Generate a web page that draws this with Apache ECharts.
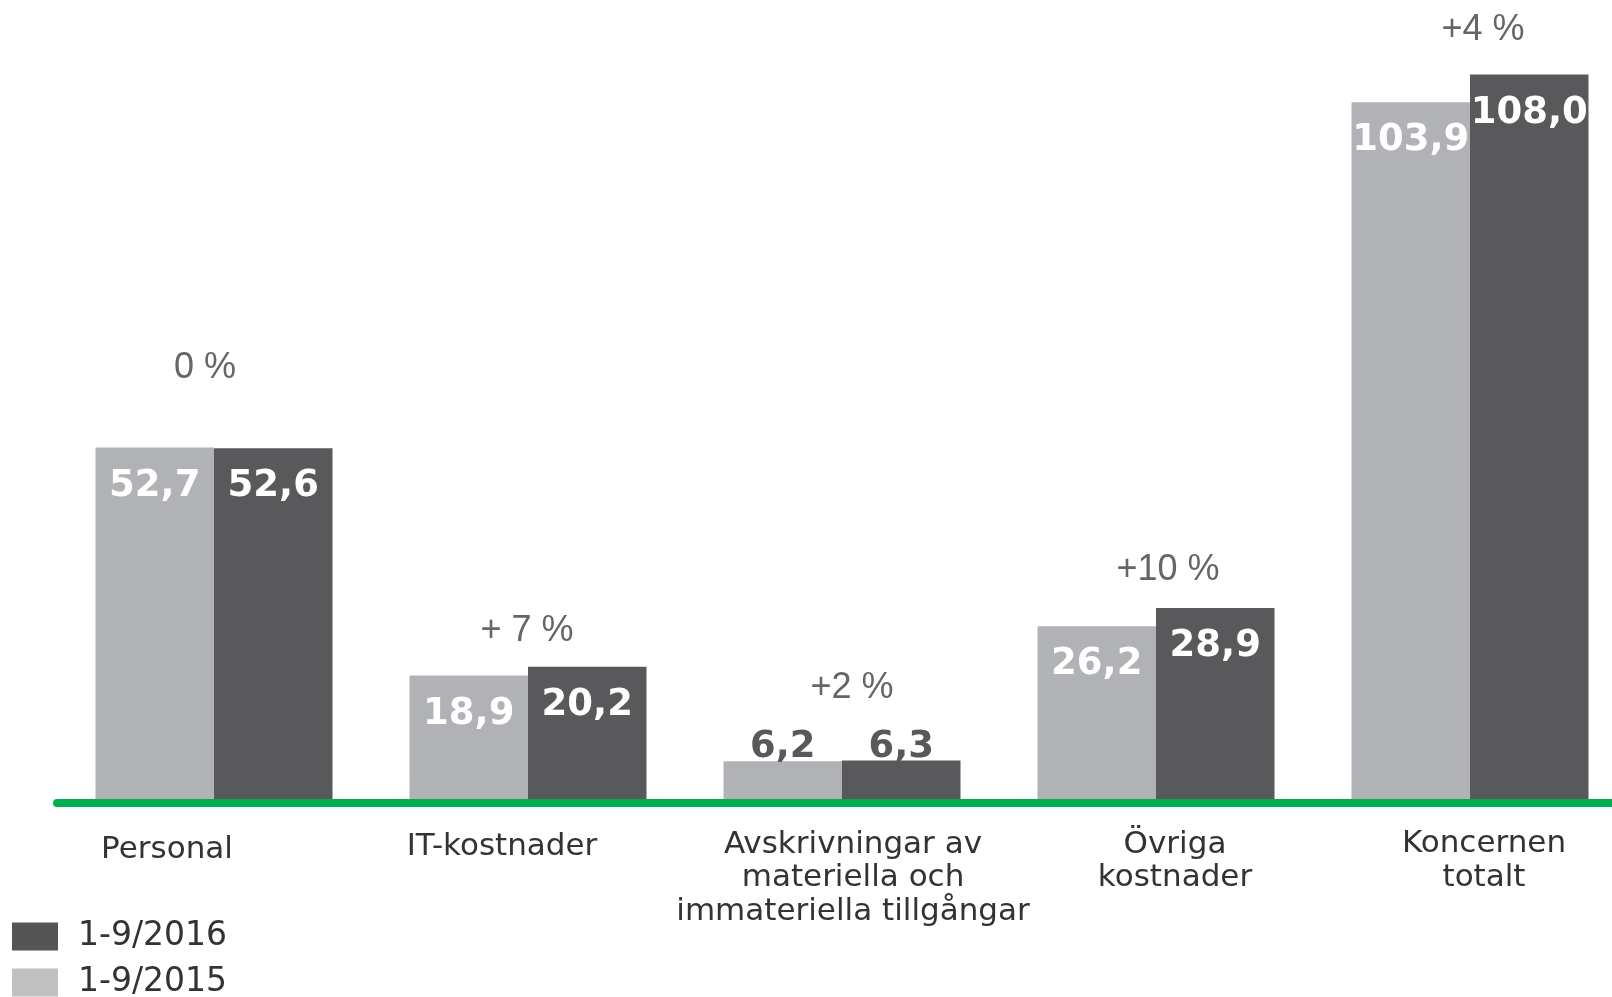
<!DOCTYPE html>
<html>
<head>
<meta charset="utf-8">
<script src="https://cdn.jsdelivr.net/npm/echarts@6/dist/echarts.min.js"></script>
<style>
  html, body { margin: 0; padding: 0; background: #fff; }
  #chart { width: 1612px; height: 997px; }
</style>
</head>
<body>
<div id="chart"></div>
<script>
const categories = [
  'Personal',
  'IT-kostnader',
  'Avskrivningar av\nmateriella och\nimmateriella tillgångar',
  'Övriga\nkostnader',
  'Koncernen\ntotalt',
];
const values2015 = [52.7, 18.9, 6.2, 26.2, 103.9];
const values2016 = [52.6, 20.2, 6.3, 28.9, 108.0];
const changes = ['0 %', '+ 7 %', '+2 %', '+10 %', '+4 %'];
const seriesNames = ['1-9/2016', '1-9/2015'];

// layout tweaks (px) for labels, per category
const catLabelDx = [-47, -26, 11, 19, 14];
const catLabelDy = [11, 5, 2, 2, 0];
const changeDx = [-9, -1, 10, 12, 13];
const changeDy = [79, 36, 72, 38, 44];

const LIGHT = '#b1b2b5';
const DARK = '#59595b';

const fmt = (v) => v.toFixed(1).replace('.', ',');

const barData = (vals) =>
  vals.map((v) =>
    v < 10
      ? { value: v, label: { position: 'top', color: DARK, distance: -5 } }
      : v,
  );

const rich = {};
catLabelDx.forEach((dx, i) => {
  const side = dx < 0 ? [0, -2 * dx, 0, 0] : [0, 0, 0, 2 * dx];
  rich['f' + i] = { padding: [catLabelDy[i], side[1], 0, side[3]], lineHeight: 34 };
  rich['o' + i] = { padding: side, lineHeight: 34 };
});

const chart = echarts.init(document.getElementById('chart'));

const valueLabel = {
  show: true,
  position: 'insideTop',
  distance: 20,
  formatter: (p) => fmt(p.value),
  color: '#ffffff',
  fontFamily: '"DejaVu Sans", Verdana, sans-serif',
  fontWeight: 'bold',
  fontSize: 37,
};

const legendItem = (name, color, top) => ({
  left: 12,
  top,
  padding: 0,
  itemWidth: 46,
  itemHeight: 28,
  icon: 'rect',
  data: [{ name, itemStyle: { color } }],
  textStyle: {
    fontFamily: '"DejaVu Sans", Verdana, sans-serif',
    fontSize: 33,
    color: '#333333',
    lineHeight: 28,
    padding: [0, 0, 0, 15],
  },
});

chart.setOption({
  animation: false,
  grid: { left: 57, width: 1570, top: 61, bottom: 194, outerBoundsMode: 'none' },
  legend: [
    legendItem(seriesNames[0], '#555555', 920),
    legendItem(seriesNames[1], '#c0c0c0', 966),
  ],
  xAxis: {
    type: 'category',
    data: categories,
    z: 5,
    axisLine: { show: true, lineStyle: { color: '#00b050', width: 8 } },
    axisTick: { show: false },
    axisLabel: {
      interval: 0,
      margin: 24,
      color: '#333333',
      fontFamily: '"DejaVu Sans", Verdana, sans-serif',
      fontSize: 31,
      lineHeight: 34,
      formatter: (value, index) =>
        value
          .split('\n')
          .map((line, j) => `{${j === 0 ? 'f' : 'o'}${index}|${line}}`)
          .join('\n'),
      rich,
    },
  },
  yAxis: { type: 'value', min: 0, max: 110, show: false },
  series: [
    {
      name: seriesNames[1],
      type: 'bar',
      data: barData(values2015),
      barWidth: 118.5,
      barGap: '0%',
      itemStyle: { color: LIGHT },
      label: valueLabel,
    },
    {
      name: seriesNames[0],
      type: 'bar',
      data: barData(values2016),
      barWidth: 118.5,
      barGap: '0%',
      itemStyle: { color: DARK },
      label: valueLabel,
    },
    {
      type: 'custom',
      silent: true,
      data: categories.map((c, i) => [i, Math.max(values2015[i], values2016[i])]),
      renderItem: (params, api) => {
        const i = api.value(0);
        const pt = api.coord([i, api.value(1)]);
        return {
          type: 'text',
          x: pt[0] + changeDx[i],
          y: pt[1] - changeDy[i],
          style: {
            text: changes[i],
            fill: '#666666',
            font: '36px "Liberation Sans", Arial, sans-serif',
            align: 'center',
            verticalAlign: 'middle',
          },
        };
      },
    },
  ],
});
</script>
</body>
</html>
